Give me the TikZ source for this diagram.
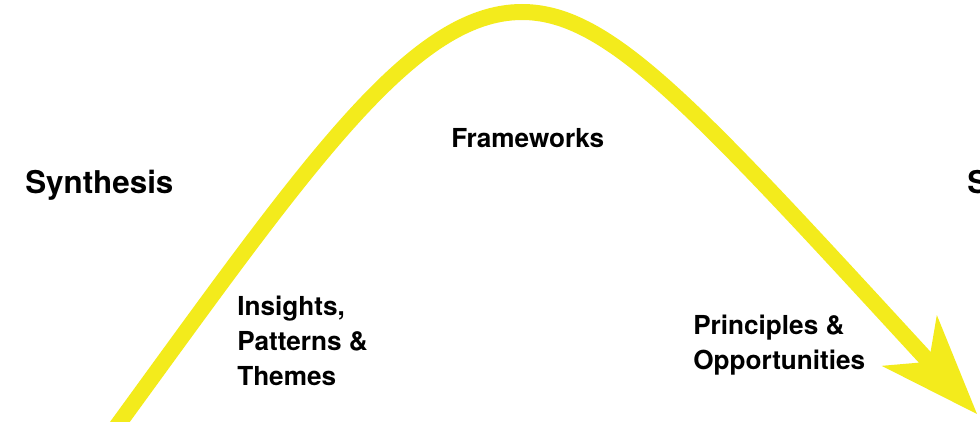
\documentclass[tikz,border=0pt]{standalone}
\usepackage{fontspec}
\setmainfont{TeX Gyre Heros}
\usetikzlibrary{arrows.meta}
\definecolor{hillyellow}{RGB}{243,235,28}
\tikzset{big label/.style={font=\bfseries\fontsize{22.3}{26}\selectfont,inner sep=0pt,anchor=base west},
         small label/.style={font=\bfseries\fontsize{18.6}{24.9}\selectfont,inner sep=0pt,anchor=north west,align=left},
         hill line/.style={draw=hillyellow,line width=0.4cm,
           -{Stealth[length=2.5cm,width=1.875cm,inset=0.725cm,line width=0pt,fill=hillyellow]}}}

\begin{document}
\begin{tikzpicture}[x=0.025cm,y=-0.025cm]
            \useasboundingbox (0,0) rectangle (980,421);
            \coordinate (start) at (106,441);
            \coordinate (peak) at (522,12);
            \coordinate (tip) at (977,414);

            \path[hill line] (start) .. controls (303,171) and (410,12) .. (peak)
                                     .. controls (610,12) and (697,110) .. (tip);

            \node[big label] (synL) at (25,193) {Synthesis};
            \node[big label] (synR) at (967,193) {Synthesis};
            \node[small label] (frame) at (451,128) {Frameworks};
            \node[small label] (insight) at (237,296) {Insights,\\Patterns \&\\Themes};
            \node[small label] (princ) at (693,315) {Principles \&\\Opportunities};
        \end{tikzpicture}
\end{document}
